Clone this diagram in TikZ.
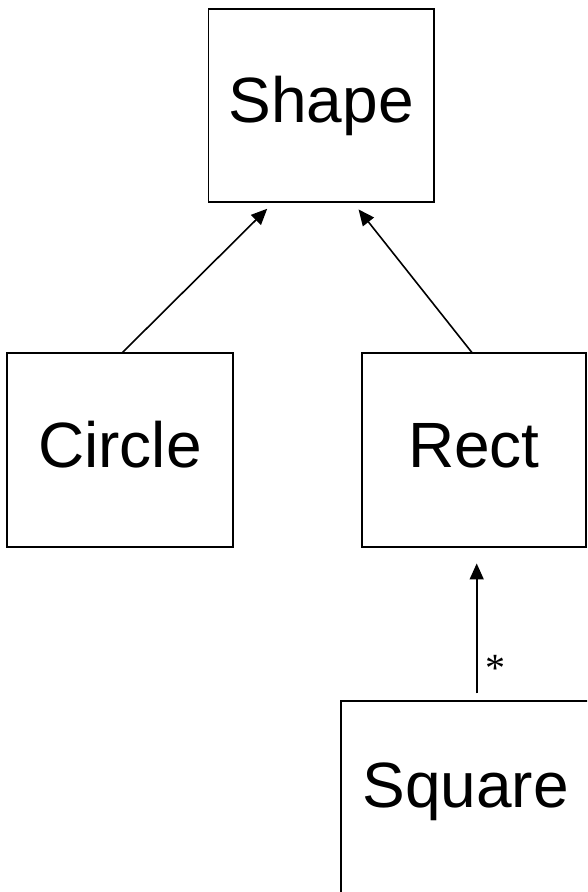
\documentclass[tikz,border=0pt]{standalone}
\usepackage{fontspec}
\setmainfont{Liberation Sans}
\newfontfamily\serifast{Liberation Serif}
\usetikzlibrary{arrows.meta}
\begin{document}
\begin{tikzpicture}[x=1pt,y=-1pt,
  classbox/.style={draw=black, line width=1.5pt, rectangle, inner sep=0pt,
    font=\fontsize{64}{70}\selectfont, text height=47pt, text depth=13pt},
  conn/.style={line width=1.6pt, -{Triangle[length=16pt,width=14pt]}},
  mult/.style={font=\serifast\fontsize{40}{40}\selectfont, inner sep=0pt}]
\useasboundingbox (0,0) rectangle (587,892);
\clip (0,0) rectangle (587,892);
\node[classbox, minimum width=225.5pt, minimum height=193pt] (shape) at (321.25,105.5) {Shape};
\node[classbox, minimum width=226pt, minimum height=194pt] (circle) at (120,450) {Circle};
\node[classbox, minimum width=224pt, minimum height=194pt] (rect) at (474,450) {Rect};
\node[classbox, minimum width=249pt, minimum height=200pt, text depth=35pt] (square) at (465.5,801) {Square};
\draw[conn, shorten <=-1pt, shorten >=8.5pt] ([xshift=2.7pt]circle.north) -- ([xshift=65.5pt]shape.south west);
\draw[conn, shorten <=-1pt, shorten >=8.5pt] ([xshift=-2.3pt]rect.north) -- ([xshift=145.5pt]shape.south west);
\draw[conn, shorten <=7pt, shorten >=15.7pt] ([xshift=11.2pt]square.north) -- ([xshift=2.7pt]rect.south);
\node[mult] (star) at (495,668) {*};
\end{tikzpicture}
\end{document}
